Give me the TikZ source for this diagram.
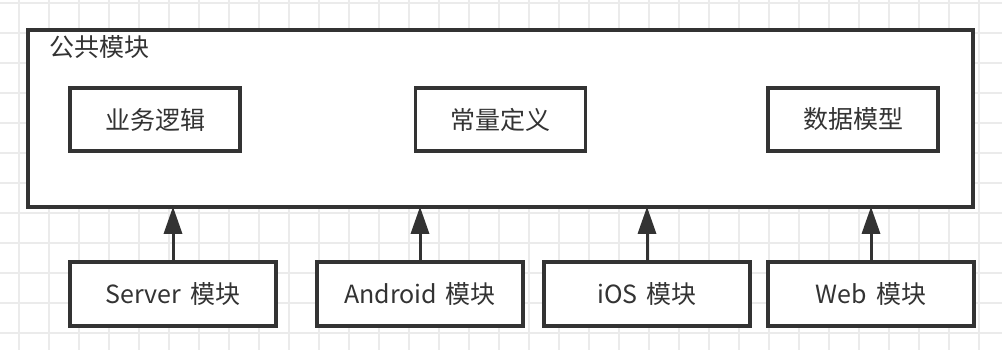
\documentclass[tikz,border=0pt]{standalone}
\usepackage{fontspec}
\setmainfont{Noto Sans CJK SC}
\usetikzlibrary{arrows.meta}
\definecolor{ink}{HTML}{333333}
\definecolor{gridc}{HTML}{EBEBEB}
\newcommand{\gapsp}{\hspace{0.36em}}
\tikzset{
  gridline/.style={draw=gridc, line width=1.5pt},
  mainbox/.style={draw=ink, fill=white, line width=3.5pt, inner sep=0pt, minimum width=945pt, minimum height=177pt},
  subbox/.style={draw=ink, fill=white, line width=3.5pt, inner sep=0pt, minimum width=170pt, minimum height=63pt, text=ink, font=\fontsize{25pt}{30pt}\selectfont},
  modbox/.style={draw=ink, fill=white, line width=3.5pt, inner sep=0pt, minimum width=206pt, minimum height=64pt, text=ink, font=\fontsize{25pt}{30pt}\selectfont},
  label/.style={text=ink, font=\fontsize{25pt}{30pt}\selectfont, inner sep=0pt, anchor=west},
  uparrow/.style={draw=ink, line width=3pt, -{Triangle[length=27pt,width=18pt]}, shorten >=-2pt}
}
\begin{document}
\begin{tikzpicture}[x=1pt,y=-1pt]
\fill[white] (0,0) rectangle (1002,350);
\useasboundingbox (0,0) rectangle (1002,350);
\foreach \x in {19,49,...,979} \draw[gridline] (\x,0) -- (\x,350);
\foreach \y in {3,33,...,333} \draw[gridline] (0,\y) -- (1002,\y);

\node[mainbox] (main) at (500.5,118.5) {};
\node[label] (title) at (49,47) {公共模块};
\node[subbox] (biz) at (155,119.5) {业务逻辑};
\node[subbox] (const) at (500.5,119.5) {常量定义};
\node[subbox] (model) at (853,119.5) {数据模型};

\node[modbox] (srv) at (173,294) {Server\gapsp 模块};
\node[modbox] (and) at (420,294) {Android\gapsp 模块};
\node[modbox] (ios) at (647,294) {iOS\gapsp 模块};
\node[modbox] (web) at (871,294) {Web\gapsp 模块};

\draw[uparrow] (srv.north) -- (srv.north |- main.south);
\draw[uparrow] (and.north) -- (and.north |- main.south);
\draw[uparrow] (ios.north) -- (ios.north |- main.south);
\draw[uparrow] (web.north) -- (web.north |- main.south);
\end{tikzpicture}
\end{document}
